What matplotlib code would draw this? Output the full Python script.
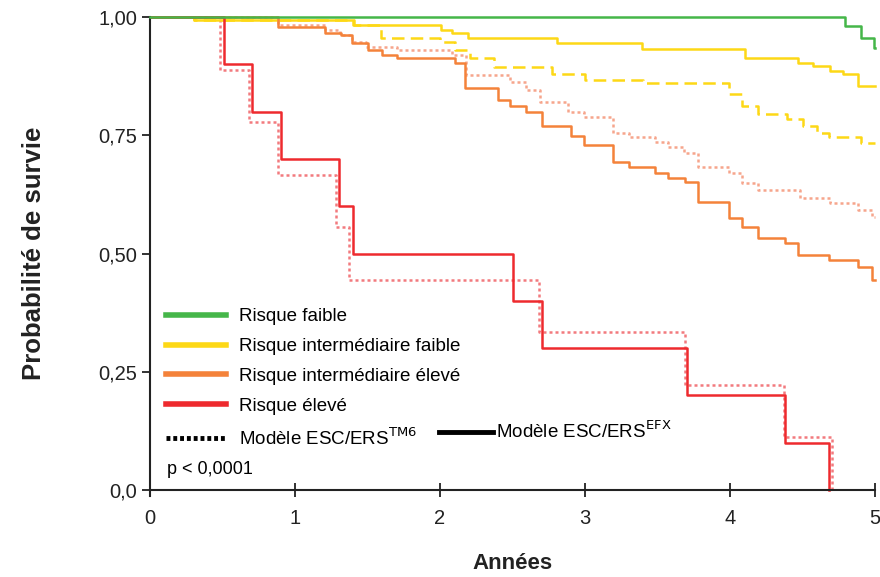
import matplotlib
matplotlib.use("Agg")
import matplotlib.pyplot as plt
from matplotlib import font_manager
from matplotlib.lines import Line2D

# Kaplan-Meier curves (time in years, survival)
# EFX model (solid)
green_t = [4.79, 4.90, 4.99]
green_s = [0.981, 0.956, 0.935]

yellow_t = [0.30, 1.40, 2.01, 2.08, 2.19, 2.81, 3.39, 4.10, 4.47, 4.57, 4.69, 4.78, 4.88]
yellow_s = [0.994, 0.983, 0.973, 0.966, 0.956, 0.945, 0.932, 0.913, 0.903, 0.896, 0.886, 0.879, 0.854]

orange_t = [0.88, 1.21, 1.32, 1.39, 1.50, 1.60, 1.70, 2.10, 2.17, 2.40, 2.48, 2.59, 2.70, 2.90,
            2.99, 3.19, 3.30, 3.48, 3.57, 3.69, 3.78, 3.99, 4.08, 4.19, 4.38, 4.47, 4.68, 4.88, 4.98]
orange_s = [0.979, 0.966, 0.962, 0.945, 0.930, 0.920, 0.913, 0.903, 0.850, 0.825, 0.812, 0.799, 0.770, 0.748,
            0.729, 0.693, 0.683, 0.670, 0.660, 0.651, 0.609, 0.575, 0.556, 0.533, 0.522, 0.497, 0.486, 0.471, 0.444]

red_t = [0.51, 0.70, 0.90, 1.30, 1.40, 2.50, 2.70, 3.70, 4.38, 4.68]
red_s = [0.9, 0.8, 0.7, 0.6, 0.5, 0.4, 0.3, 0.2, 0.1, 0.0]

# TM6 model (dotted / dashed)
yellow6_t = [0.30, 1.41, 1.59, 2.00, 2.10, 2.21, 2.37, 2.77, 3.00, 3.40, 3.99, 4.08, 4.19, 4.39, 4.50, 4.60, 4.68, 4.90]
yellow6_s = [0.994, 0.983, 0.956, 0.947, 0.930, 0.913, 0.894, 0.879, 0.867, 0.860, 0.837, 0.812, 0.795, 0.784,
             0.770, 0.755, 0.746, 0.734]

orange6_t = [0.88, 1.21, 1.31, 1.39, 1.49, 1.70, 2.08, 2.18, 2.48, 2.59, 2.69, 2.88, 2.99, 3.19, 3.30, 3.48,
             3.57, 3.68, 3.78, 3.99, 4.08, 4.19, 4.48, 4.69, 4.88, 4.98]
orange6_s = [0.983, 0.973, 0.962, 0.947, 0.937, 0.930, 0.920, 0.877, 0.863, 0.846, 0.820, 0.799, 0.789, 0.755,
             0.746, 0.736, 0.725, 0.712, 0.683, 0.670, 0.649, 0.634, 0.617, 0.607, 0.592, 0.577]

red6_t = [0.48, 0.68, 0.88, 1.28, 1.37, 2.68, 3.69, 4.37, 4.70]
red6_s = [0.889, 0.778, 0.667, 0.556, 0.444, 0.333, 0.222, 0.111, 0.0]

labels = ["Risque faible", "Risque intermédiaire faible", "Risque intermédiaire élevé", "Risque élevé"]
y_ticks = [0.0, 0.25, 0.50, 0.75, 1.00]
y_ticklabels = ["0,0", "0,25", "0,50", "0,75", "1,00"]
x_ticks = [0, 1, 2, 3, 4, 5]

GREEN = "#45b649"
YELLOW = "#fdd816"
ORANGE = "#f4823a"
RED = "#ee2a2e"
ORANGE_L = "#f6a58c"
RED_L = "#f27a7e"

names = {f.name for f in font_manager.fontManager.ttflist}
if "Liberation Sans Narrow" in names:
    narrow = "Liberation Sans Narrow"
    fs_leg, fs_tick = 16, 17
else:
    narrow = "Liberation Sans"
    fs_leg, fs_tick = 13.5, 14.5
plt.rcParams["font.family"] = [narrow, "DejaVu Sans"]


def km(times, surv, end=5.0):
    x = [0.0] + list(times) + [end]
    y = [1.0] + list(surv) + [surv[-1]]
    return x, y


fig = plt.figure(figsize=(8.8, 5.77), dpi=100)
ax = fig.add_axes([150 / 880, 87 / 577, 725 / 880, 473 / 577])

# TM6 (dotted) drawn first
x, y = km(yellow6_t, yellow6_s)
ax.step(x, y, where="post", color=YELLOW, lw=1.8, ls=(0, (5, 2.5)), clip_on=False)
x, y = km(orange6_t, orange6_s)
ax.step(x, y, where="post", color=ORANGE_L, lw=1.8, ls=(0, (1.2, 1.2)), clip_on=False)
x, y = km(red6_t, red6_s, end=red6_t[-1])
ax.step(x, y, where="post", color=RED_L, lw=1.8, ls=(0, (1.2, 1.2)), clip_on=False)

# EFX (solid)
x, y = km(yellow_t, yellow_s)
ax.step(x, y, where="post", color=YELLOW, lw=1.8, clip_on=False)
x, y = km(orange_t, orange_s)
ax.step(x, y, where="post", color=ORANGE, lw=1.8, clip_on=False)
x, y = km(red_t, red_s, end=red_t[-1])
ax.step(x, y, where="post", color=RED, lw=1.8, clip_on=False)
x, y = km(green_t, green_s)
ax.step(x, y, where="post", color=GREEN, lw=1.8, clip_on=False, zorder=5)

ax.set_xlim(0, 5)
ax.set_ylim(0, 1.0)
ax.set_xticks(x_ticks)
ax.set_yticks(y_ticks)
ax.set_yticklabels(y_ticklabels)
ax.tick_params(axis="x", direction="inout", length=10, width=1.3, labelsize=fs_tick, pad=9, colors="#222222")
ax.tick_params(axis="y", direction="out", length=6, width=1.3, labelsize=fs_tick, pad=3, colors="#222222")
for s in ["top", "right"]:
    ax.spines[s].set_visible(False)
for s in ["left", "bottom"]:
    ax.spines[s].set_linewidth(1.5)
    ax.spines[s].set_color("#222222")
ax.spines["left"].set_bounds(-0.012, 1.0)

ax.set_ylabel("Probabilité de survie", fontsize=18.5, fontweight="bold", family="Liberation Sans",
              labelpad=38, color="#222222")
ax.set_xlabel("Années", fontsize=16, fontweight="bold", family="Liberation Sans", labelpad=18,
              color="#222222")

handles = [Line2D([], [], color=c, lw=4) for c in [GREEN, YELLOW, ORANGE, RED]]
handles.append(Line2D([], [], color="black", lw=3.5, ls=(0, (0.8, 0.6))))
leg1 = ax.legend(handles, labels + [r"Modèle ESC/ERS$^{\mathrm{TM6}}$"], loc="upper left",
                 bbox_to_anchor=(0.022, 0.384), frameon=False, fontsize=fs_leg,
                 handlelength=3.2, handletextpad=0.7, labelspacing=0.67, borderpad=0, borderaxespad=0)
ax.add_artist(leg1)
ax.legend([Line2D([], [], color="black", lw=3.5)], [r"Modèle ESC/ERS$^{\mathrm{EFX}}$"], loc="center left",
          bbox_to_anchor=(0.398, 0.124), frameon=False, fontsize=fs_leg,
          handlelength=2.9, handletextpad=0.15, borderpad=0, borderaxespad=0)

ax.text(0.024, 0.044, "p < 0,0001", transform=ax.transAxes, fontsize=fs_leg - 0.5, va="center", ha="left")

fig.savefig("out.png", dpi=100)
